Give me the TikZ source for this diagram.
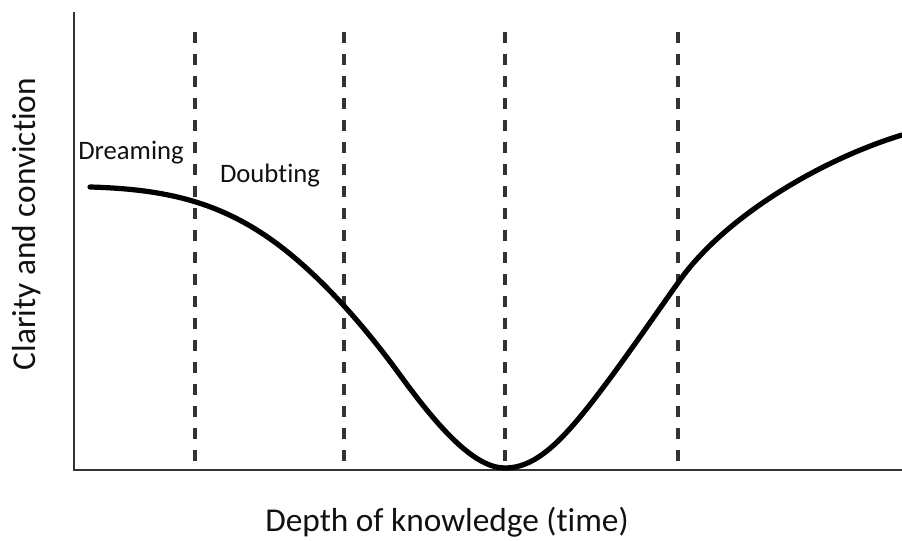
\documentclass[tikz,border=0pt]{standalone}
\usepackage{fontspec}
\setmainfont{Carlito}[Ligatures=NoCommon]
\usetikzlibrary{positioning}
\definecolor{caxis}{HTML}{333333}
\definecolor{cink}{HTML}{111111}
\tikzset{
  every picture/.style={x=0.75pt, y=-0.75pt},
  axis/.style={draw=caxis, line width=2.1pt},
  phase/.style={draw=caxis, line width=2.8pt, dash pattern=on 8pt off 8.5pt},
  curve/.style={draw=black, line width=3.9pt, line cap=round},
  label/.style={font=\fontsize{25}{29}\selectfont, text=cink},
  stage/.style={font=\fontsize{20}{24}\selectfont, text=cink, inner sep=0pt},
}

\begin{document}
\begin{tikzpicture}
  \useasboundingbox (0,0) rectangle (902,541);
  % axes
  \coordinate (ytop) at (74,12);
  \coordinate (o) at (74,470);
  \coordinate (xend) at (902,470);
  \draw[axis] (ytop) -- (o) -- (xend);
  % phase boundaries
  \foreach \x [count=\k] in {195,344,505,678} {
    \coordinate (t\k) at (\x,32);
    \coordinate (b\k) at (\x,470);
    \draw[phase] (t\k) -- (b\k);
  }
  % clarity curve
  \coordinate (c0) at (90,187);
  \coordinate (c1) at (260,232);
  \coordinate (c2) at (400,375);
  \coordinate (low) at (505,468);
  \coordinate (c4) at (580,417);
  \coordinate (c5) at (680,280);
  \coordinate (c6) at (902,135);
  \draw[curve] (c0) .. controls (160,189) and (210,200) .. (c1)
    .. controls (310,264) and (360,320) .. (c2)
    .. controls (440,430) and (475,468) .. (low)
    .. controls (532,468) and (555,447) .. (c4)
    .. controls (610,381) and (650,322) .. (c5)
    .. controls (725,217) and (820,160) .. (c6);
  % labels
  \node[stage, anchor=base] (dream) at (131,160) {Dreaming};
  \node[stage, anchor=base] (doubt) at (270,183) {Doubting};
  \node[label, rotate=90] (ylab) at (27,224) {Clarity and conviction};
  \node[label] (xlab) at (447,522) {Depth of knowledge (time)};
\end{tikzpicture}
\end{document}
